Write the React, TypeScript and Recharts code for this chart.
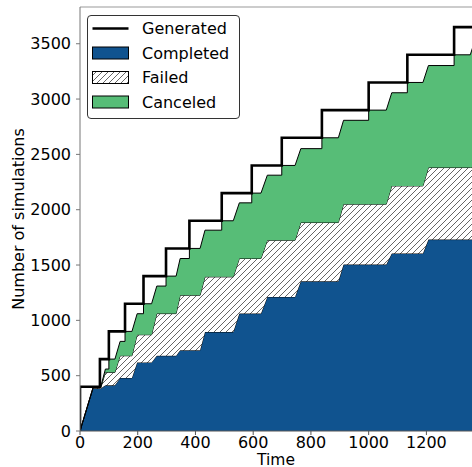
import React from 'react';
import { ComposedChart, Area, Line, XAxis, YAxis, Legend, ReferenceLine } from 'recharts';

// Sample times (shared by the stacked series)
const times = [0, 45, 69, 69, 72, 88, 100, 100, 121, 139, 156, 156, 180, 198, 220, 220, 248, 266, 298, 298, 333, 347, 379, 379, 416, 433, 491, 491, 531, 552, 595, 595, 627, 649, 699, 699, 745, 765, 838, 838, 895, 913, 1000, 1000, 1061, 1080, 1134, 1134, 1188, 1207, 1296, 1296, 1352, 1372];
const completed = [0, 385, 385, 385, 385, 413, 413, 413, 413, 480, 480, 480, 480, 620, 620, 620, 620, 680, 680, 680, 680, 730, 730, 730, 730, 895, 895, 895, 895, 1061, 1061, 1061, 1061, 1212, 1212, 1212, 1212, 1353, 1353, 1353, 1353, 1504, 1504, 1504, 1504, 1604, 1604, 1604, 1604, 1730, 1730, 1730, 1730, 1730];
const failed = [0, 5, 5, 5, 5, 117, 117, 117, 117, 200, 200, 200, 200, 250, 250, 250, 250, 381, 381, 381, 381, 497, 497, 497, 497, 498, 498, 498, 498, 498, 498, 498, 498, 512, 512, 512, 512, 531, 531, 531, 531, 546, 546, 546, 546, 611, 611, 611, 611, 651, 651, 651, 651, 651];
const canceled = [0, 0, 0, 10, 10, 30, 30, 120, 120, 130, 130, 220, 220, 190, 190, 280, 280, 249, 249, 339, 339, 332, 332, 423, 423, 422, 422, 507, 507, 503, 503, 591, 591, 588, 588, 676, 676, 668, 668, 766, 766, 758, 758, 850, 850, 842, 842, 935, 935, 922, 922, 1019, 1019, 1179];

// Generated simulations (step function)
const genTimes = [0, 0, 69, 100, 156, 220, 298, 379, 491, 595, 699, 838, 1000, 1134, 1296, 1400];
const genValues = [0, 400, 650, 900, 1150, 1400, 1650, 1900, 2150, 2400, 2650, 2900, 3150, 3400, 3650, 3650];

const xTicks = [0, 200, 400, 600, 800, 1000, 1200];
const yTicks = [0, 500, 1000, 1500, 2000, 2500, 3000, 3500];
const X_MAX = 1358;
const Y_MAX = 3832;

const BLUE = '#10538f';
const GREEN = '#57bd77';
const FONT = '"DejaVu Sans", sans-serif';
const FS = 16;

const stackData = times.map((t, i) => ({ t, completed: completed[i], failed: failed[i], canceled: canceled[i] }));
const genData = genTimes.map((t, i) => ({ t, generated: genValues[i] }));

const legendItems = [
  { name: 'Generated', kind: 'line' },
  { name: 'Completed', kind: 'blue' },
  { name: 'Failed', kind: 'hatch' },
  { name: 'Canceled', kind: 'green' },
];

const HatchPattern = ({ id }: { id: string }) => (
  <pattern id={id} patternUnits="userSpaceOnUse" width={6} height={6}>
    <rect width={6} height={6} fill="#fff" />
    <path d="M-1,1 l2,-2 M0,6 l6,-6 M5,7 l2,-2" stroke="#333" strokeWidth={0.75} />
  </pattern>
);

const renderLegend = () => (
  <svg width={153} height={104} style={{ display: 'block' }}>
    <defs>
      <HatchPattern id="hatchLegend" />
    </defs>
    <rect x={0.5} y={0.5} width={152} height={103} rx={3.5} fill="#fff" stroke="#333" strokeWidth={1} />
    {legendItems.map((it, i) => {
      const cy = 13.5 + i * 24.5;
      return (
        <g key={it.name}>
          {it.kind === 'line' ? (
            <line x1={5.5} x2={41.5} y1={cy} y2={cy} stroke="#000" strokeWidth={2.6} />
          ) : (
            <rect
              x={5.5}
              y={cy - 6}
              width={36}
              height={12}
              fill={it.kind === 'blue' ? BLUE : it.kind === 'green' ? GREEN : 'url(#hatchLegend)'}
              stroke="#000"
              strokeWidth={1}
            />
          )}
          <text x={55} y={cy} dominantBaseline="central" fontSize={FS} fontFamily={FONT} fill="#000">
            {it.name}
          </text>
        </g>
      );
    })}
  </svg>
);

export default function App() {
  return (
    <div style={{ position: 'absolute', left: 0, top: 0, width: 472, height: 467, background: '#fff' }}>
      <ComposedChart width={472} height={467} data={stackData} margin={{ top: 7, right: 0, bottom: 0, left: 0 }}>
        <defs>
          <HatchPattern id="hatchFill" />
        </defs>
        <XAxis
          dataKey="t"
          type="number"
          domain={[0, X_MAX]}
          allowDataOverflow
          ticks={xTicks}
          interval={0}
          height={36}
          tickSize={4}
          tickMargin={2}
          stroke="#555"
          tick={{ fill: '#000', fontSize: FS, fontFamily: FONT }}
          label={{ value: 'Time', position: 'insideBottom', offset: 2.5, fill: '#000', fontSize: 15.5, fontFamily: FONT }}
        />
        <YAxis
          type="number"
          domain={[0, Y_MAX]}
          allowDataOverflow
          ticks={yTicks}
          interval={0}
          width={80}
          tickSize={4}
          tickMargin={5}
          stroke="#777"
          tick={{ fill: '#000', fontSize: FS, fontFamily: FONT }}
          label={{
            value: 'Number of simulations',
            angle: -90,
            position: 'insideLeft',
            offset: 18,
            fill: '#000',
            fontSize: FS,
            fontFamily: FONT,
            style: { textAnchor: 'middle' },
          }}
        />
        <ReferenceLine y={Y_MAX} stroke="#999" strokeWidth={1} />
        <Area type="linear" dataKey="completed" stackId="s" fill={BLUE} fillOpacity={1} stroke="#000" strokeWidth={1} isAnimationActive={false} />
        <Area type="linear" dataKey="failed" stackId="s" fill="url(#hatchFill)" fillOpacity={1} stroke="#000" strokeWidth={1} isAnimationActive={false} />
        <Area type="linear" dataKey="canceled" stackId="s" fill={GREEN} fillOpacity={1} stroke="#000" strokeWidth={1} isAnimationActive={false} />
        <Line data={genData} type="stepAfter" dataKey="generated" stroke="#000" strokeWidth={2.6} dot={false} activeDot={false} isAnimationActive={false} />
        <Legend
          layout="vertical"
          align="center"
          verticalAlign="middle"
          content={renderLegend}
          wrapperStyle={{ position: 'absolute', left: 87, top: 15, width: 153, height: 104 }}
        />
      </ComposedChart>
    </div>
  );
}
